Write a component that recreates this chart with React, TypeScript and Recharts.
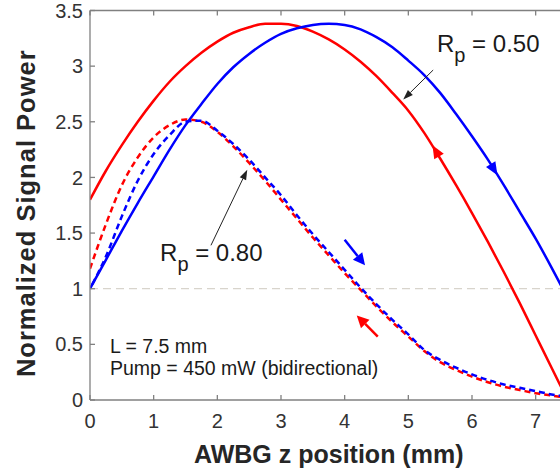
import React from 'react';
import { LineChart, Line, XAxis, YAxis, ReferenceLine, ReferenceDot, Label } from 'recharts';

// z position along the grating (mm)
const zPos = [0, 0.25, 0.5, 0.75, 1, 1.25, 1.5, 1.75, 2, 2.25, 2.5, 2.75, 3, 3.25, 3.5, 3.75, 4, 4.25, 4.5, 4.75, 5, 5.25, 5.5, 5.75, 6, 6.25, 6.5, 6.75, 7, 7.25, 7.5];

// Rp = 0.50, forward (blue) and backward (red)
const fwd050 = [1.0, 1.26, 1.52, 1.77, 2.01, 2.25, 2.47, 2.66, 2.84, 2.99, 3.11, 3.21, 3.29, 3.34, 3.37, 3.38, 3.37, 3.33, 3.26, 3.17, 3.05, 2.92, 2.76, 2.57, 2.37, 2.16, 1.93, 1.69, 1.45, 1.19, 0.92];
const bwd050 = [1.8, 2.06, 2.29, 2.5, 2.69, 2.86, 3.0, 3.12, 3.22, 3.3, 3.35, 3.38, 3.38, 3.36, 3.31, 3.24, 3.15, 3.04, 2.91, 2.76, 2.6, 2.4, 2.17, 1.93, 1.68, 1.42, 1.15, 0.87, 0.58, 0.29, 0.0];

// Rp = 0.80, forward (blue dashed) and backward (red dashed)
const fwd080 = [1.0, 1.29, 1.65, 1.97, 2.21, 2.38, 2.5, 2.51, 2.42, 2.3, 2.16, 2.0, 1.84, 1.66, 1.49, 1.33, 1.17, 1.01, 0.86, 0.72, 0.59, 0.45, 0.36, 0.29, 0.23, 0.18, 0.14, 0.11, 0.08, 0.05, 0.03];
const bwd080 = [1.18, 1.58, 1.93, 2.18, 2.36, 2.47, 2.52, 2.5, 2.41, 2.28, 2.13, 1.97, 1.8, 1.63, 1.46, 1.3, 1.14, 0.99, 0.84, 0.7, 0.57, 0.44, 0.34, 0.27, 0.21, 0.16, 0.12, 0.09, 0.06, 0.04, 0.02];

const xTicks = [0, 1, 2, 3, 4, 5, 6, 7];
const yTicks = [0, 0.5, 1, 1.5, 2, 2.5, 3, 3.5];

const data = zPos.map((z, i) => ({
  z,
  fwd050: fwd050[i],
  bwd050: bwd050[i],
  fwd080: fwd080[i],
  bwd080: bwd080[i],
}));

const RED = '#ff0000';
const BLUE = '#0000ff';
const AXIS = '#808080';
const FONT = '"Liberation Sans", Arial, Helvetica, sans-serif';

// arrow drawn between the two ends of a reference segment
const arrowShape = (color: string, width: number, headLen: number, headHalf: number, withLine: boolean) =>
  (props: any) => {
    const { x1, y1, x2, y2 } = props;
    const ang = Math.atan2(y2 - y1, x2 - x1);
    const bx = x2 - headLen * Math.cos(ang);
    const by = y2 - headLen * Math.sin(ang);
    const px = -Math.sin(ang) * headHalf;
    const py = Math.cos(ang) * headHalf;
    return (
      <g>
        {withLine && <line x1={x1} y1={y1} x2={bx} y2={by} stroke={color} strokeWidth={width} />}
        <polygon points={`${x2},${y2} ${bx + px},${by + py} ${bx - px},${by - py}`} fill={color} />
      </g>
    );
  };

const rpLabel = (value: string) => (props: any) => (
  <text x={props.cx} y={props.cy} fontSize={24} fill="#1a1a1a">
    R<tspan fontSize={20} dy={10}>p</tspan>
    <tspan dy={-10}>{` = ${value}`}</tspan>
  </text>
);

const plainLabel = (value: string) => (props: any) => (
  <text x={props.cx} y={props.cy} fontSize={19.5} fill="#1a1a1a">{value}</text>
);

const renderYLabel = (props: any) => {
  const { viewBox } = props;
  const cx = 26;
  const cy = viewBox.y + viewBox.height / 2 + 8;
  return (
    <text x={cx} y={cy} transform={`rotate(-90 ${cx} ${cy})`} textAnchor="middle" dominantBaseline="central"
      fontSize={25.5} fontWeight="bold" letterSpacing={1} fill="#262626">
      Normalized Signal Power
    </text>
  );
};

export default function App() {
  return (
    <div style={{ position: 'fixed', left: 0, top: 0, width: 560, height: 472, overflow: 'hidden', background: '#fff', fontFamily: FONT }}>
      <LineChart width={580} height={472} data={data} margin={{ top: 8.5, right: 12.5, bottom: 0, left: 0 }}>
        <XAxis
          dataKey="z"
          type="number"
          domain={[0, 7.5]}
          ticks={xTicks}
          interval={0}
          allowDataOverflow
          height={72}
          tickSize={-5}
          tickMargin={19}
          stroke={AXIS}
          strokeWidth={1.3}
          tick={{ fill: '#333', fontSize: 20 }}
        >
          <Label value="AWBG z position (mm)" position="insideBottom" offset={9} fontSize={25} fontWeight="bold" fill="#262626" />
        </XAxis>
        <XAxis
          xAxisId="top"
          orientation="top"
          dataKey="z"
          type="number"
          domain={[0, 7.5]}
          ticks={xTicks}
          interval={0}
          height={2}
          tickSize={-5}
          tickFormatter={() => ''}
          stroke={AXIS}
          strokeWidth={1.3}
        />
        <YAxis
          type="number"
          domain={[0, 3.5]}
          ticks={yTicks}
          interval={0}
          width={90}
          tickSize={-5}
          tickMargin={12}
          stroke={AXIS}
          strokeWidth={1.3}
          tick={{ fill: '#333', fontSize: 20 }}
        >
          <Label content={renderYLabel} />
        </YAxis>

        <ReferenceLine y={1} stroke="#d8d4cc" strokeDasharray="8 5" strokeWidth={1.3} />

        <Line dataKey="bwd050" type="monotone" stroke={RED} strokeWidth={2.5} dot={false} isAnimationActive={false} />
        <Line dataKey="fwd050" type="monotone" stroke={BLUE} strokeWidth={2.5} dot={false} isAnimationActive={false} />
        <Line dataKey="bwd080" type="monotone" stroke={RED} strokeWidth={2.5} strokeDasharray="6 4" dot={false} isAnimationActive={false} />
        <Line dataKey="fwd080" type="monotone" stroke={BLUE} strokeWidth={2.5} strokeDasharray="6 4" strokeDashoffset={5} dot={false} isAnimationActive={false} />

        {/* direction heads on the Rp = 0.50 curves */}
        <ReferenceLine segment={[{ x: 6.25, y: 2.16 }, { x: 6.4, y: 2.02 }]} shape={arrowShape(BLUE, 2.5, 13, 5.5, false)} />
        <ReferenceLine segment={[{ x: 5.5, y: 2.17 }, { x: 5.38, y: 2.29 }]} shape={arrowShape(RED, 2.5, 13, 5.5, false)} />

        {/* direction arrows for the Rp = 0.80 curves */}
        <ReferenceLine segment={[{ x: 4.0, y: 1.44 }, { x: 4.32, y: 1.21 }]} shape={arrowShape(BLUE, 2.5, 12, 6, true)} />
        <ReferenceLine segment={[{ x: 4.52, y: 0.57 }, { x: 4.19, y: 0.76 }]} shape={arrowShape(RED, 2.5, 12, 6, true)} />

        {/* pointers for the labels */}
        <ReferenceLine segment={[{ x: 5.39, y: 2.965 }, { x: 4.92, y: 2.7 }]} shape={arrowShape('#222', 1, 10, 3.5, true)} />
        <ReferenceLine segment={[{ x: 1.9, y: 1.39 }, { x: 2.47, y: 2.07 }]} shape={arrowShape('#222', 1, 10, 3.5, true)} />

        <ReferenceDot x={5.45} y={3.127} shape={rpLabel('0.50')} />
        <ReferenceDot x={1.1} y={1.249} shape={rpLabel('0.80')} />
        <ReferenceDot x={0.314} y={0.422} shape={plainLabel('L = 7.5 mm')} />
        <ReferenceDot x={0.314} y={0.225} shape={plainLabel('Pump = 450 mW (bidirectional)')} />
      </LineChart>
    </div>
  );
}
